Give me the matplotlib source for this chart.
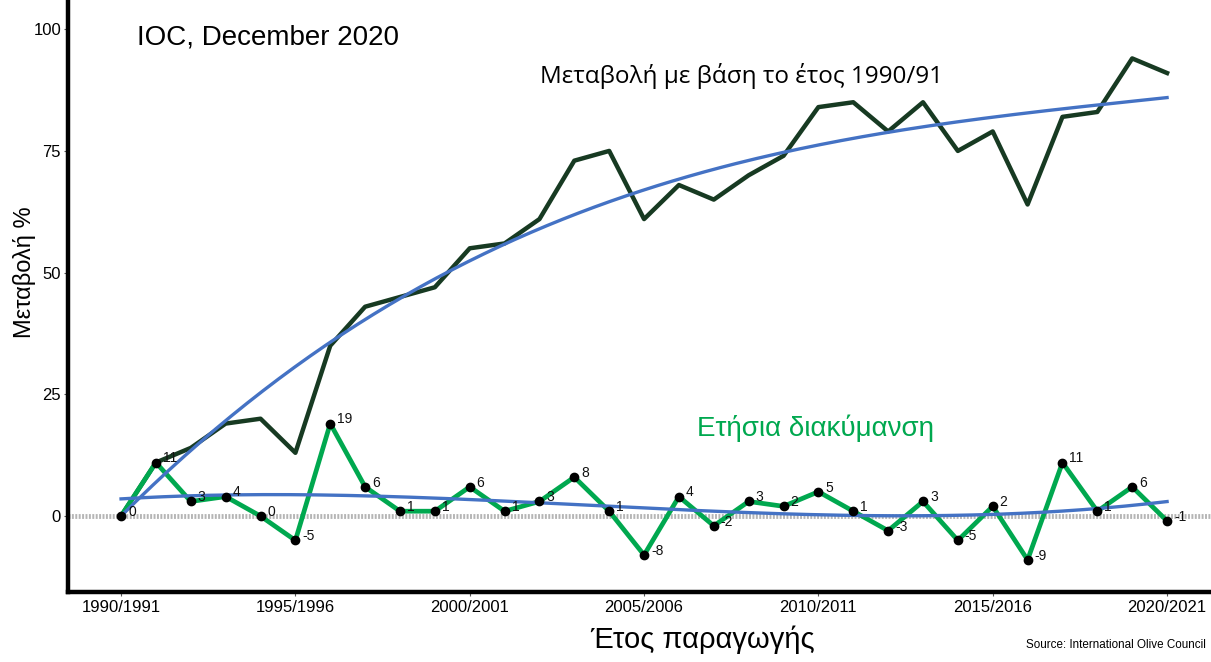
import numpy as np
import matplotlib
matplotlib.use("Agg")
import matplotlib.pyplot as plt

plt.rcParams['font.family'] = ['Liberation Sans', 'DejaVu Sans']

# περίοδοι παραγωγής 1990/91 ... 2020/21
years = np.arange(1990, 2021)
# μεταβολή % με βάση το 1990/91
cumulative = [0, 11, 14, 19, 20, 13, 35, 43, 45, 47, 55, 56, 61, 73, 75, 61,
              68, 65, 70, 74, 84, 85, 79, 85, 75, 79, 64, 82, 83, 94, 91]
# ετήσια διακύμανση %
annual = [0, 11, 3, 4, 0, -5, 19, 6, 1, 1, 6, 1, 3, 8, 1, -8,
          4, -2, 3, 2, 5, 1, -3, 3, -5, 2, -9, 11, 1, 6, -1]
tick_years = [1990, 1995, 2000, 2005, 2010, 2015, 2020]
tick_labels = ['1990/1991', '1995/1996', '2000/2001', '2005/2006',
               '2010/2011', '2015/2016', '2020/2021']

dark = '#173a22'
green = '#00a84f'
blue = '#4472c4'

fig = plt.figure(figsize=(12.11, 6.62), dpi=100)
ax = fig.add_axes([0.0562, 0.1057, 0.9438, 0.8943])

t = (years - years[0]).astype(float)
tt = np.linspace(0, 30, 200)

# γραμμή τάσης 3ου βαθμού με σταθερό όρο 0 (μεταβολή από 1990/91)
A = np.column_stack([t, t**2, t**3])
c = np.linalg.lstsq(A, np.array(cumulative, float), rcond=None)[0]
trend_cum = c[0] * tt + c[1] * tt**2 + c[2] * tt**3
# γραμμή τάσης 3ου βαθμού για την ετήσια διακύμανση
trend_ann = np.polyval(np.polyfit(t, annual, 3), tt)

ax.axhline(0, color='#b5b5b5', lw=3.5, ls=(0, (0.4, 0.3)), zorder=1)
ax.plot(years, cumulative, color=dark, lw=3.2, zorder=3)
ax.plot(years[0] + tt, trend_cum, color=blue, lw=2.4, zorder=4)
ax.plot(years, annual, color=green, lw=3.4, zorder=3)
ax.plot(years[0] + tt, trend_ann, color=blue, lw=2.4, zorder=4)
ax.plot(years, annual, 'o', color='black', ms=6, zorder=5)

for x, v in zip(years, annual):
    ax.annotate(str(v), (x, v), xytext=(5, 3), textcoords='offset points',
                ha='left', va='center', fontsize=10, color='#111111', zorder=6)

ax.set_xlim(1988.48, 2021.26)
ax.set_ylim(-15.6, 106)
ax.set_xticks(tick_years)
ax.set_xticklabels(tick_labels, fontsize=12)
ax.set_yticks([0, 25, 50, 75, 100])
ax.tick_params(axis='y', labelsize=12, length=3, color='#555555', pad=2)
ax.tick_params(axis='x', length=3, color='#555555', pad=3)

for s in ['top', 'right']:
    ax.spines[s].set_visible(False)
for s in ['left', 'bottom']:
    ax.spines[s].set_linewidth(3.2)
    ax.spines[s].set_color('black')

fig.text(24 / 1211, 1 - 272 / 662, 'Μεταβολή %', fontsize=17, rotation=90,
         ha='center', va='center')
fig.text(703 / 1211, 1 - 640 / 662, 'Έτος παραγωγής', fontsize=21,
         ha='center', va='center')

fig.text(137 / 1211, 1 - 37 / 662, 'IOC, December 2020', fontsize=20,
         ha='left', va='center')
fig.text(540 / 1211, 1 - 76 / 662, 'Μεταβολή με βάση το έτος 1990/91',
         fontsize=17.5, ha='left', va='center', family=['Open Sans', 'DejaVu Sans'])
fig.text(697 / 1211, 1 - 428 / 662, 'Ετήσια διακύμανση', fontsize=20,
         color=green, ha='left', va='center')
fig.text(1206 / 1211, 1 - 645 / 662, 'Source: International Olive Council',
         fontsize=8.4, ha='right', va='center')

fig.savefig('out.png', dpi=100)
